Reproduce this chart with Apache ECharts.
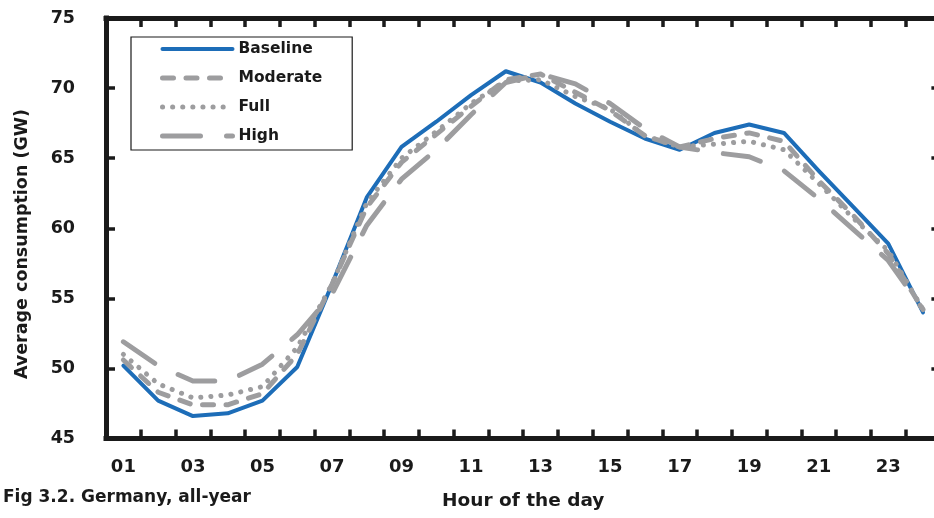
<!DOCTYPE html>
<html>
<head>
<meta charset="utf-8">
<style>
  html, body { margin: 0; padding: 0; background: #ffffff; }
  #chart { width: 934px; height: 518px; }
</style>
<script src="https://cdn.jsdelivr.net/npm/echarts@6/dist/echarts.min.js"></script>
</head>
<body>
<div id="chart"></div>
<script>
// Hours of the day (category axis)
const hours = ['01','02','03','04','05','06','07','08','09','10','11','12',
               '13','14','15','16','17','18','19','20','21','22','23','24'];

// Average hourly consumption in GW for each scenario
const baseline = [50.2, 47.7, 46.6, 46.8, 47.7, 50.1, 56.0, 62.2, 65.8, 67.6, 69.5, 71.2,
                  70.4, 68.9, 67.6, 66.4, 65.6, 66.8, 67.4, 66.8, 64.1, 61.5, 58.9, 54.0];
const moderate = [50.6, 48.3, 47.4, 47.4, 48.2, 51.0, 56.0, 61.5, 64.7, 66.7, 68.7, 70.6,
                  71.0, 69.7, 68.4, 66.6, 65.8, 66.4, 66.8, 66.2, 63.4, 60.9, 58.2, 54.2];
const full     = [51.0, 48.9, 47.9, 48.1, 48.7, 51.5, 56.0, 61.8, 65.0, 66.9, 68.9, 70.5,
                  70.6, 69.4, 68.5, 66.6, 65.8, 66.0, 66.2, 65.6, 63.2, 60.7, 58.4, 54.2];
const high     = [51.9, 50.2, 49.1, 49.1, 50.3, 52.4, 55.3, 60.2, 63.5, 65.6, 68.1, 70.4,
                  71.0, 70.3, 68.9, 67.1, 65.8, 65.4, 65.1, 64.1, 62.1, 59.9, 57.7, 54.2];

const seriesNames = ['Baseline', 'Moderate', 'Full', 'High'];

const FONT = '"DejaVu Sans", sans-serif';
const INK = '#1a1a1a';
const BLUE = '#1d6db8';
const GREY = '#9d9d9f';

const chart = echarts.init(document.getElementById('chart'), null, { renderer: 'canvas' });

const frameAxisLine = { show: true, lineStyle: { color: INK, width: 5, cap: 'square' } };
const frameTick = { show: true, inside: true, length: 9, lineStyle: { color: INK, width: 3.5 } };

function lineSeries(name, data, color, width, dash) {
  return {
    name: name,
    type: 'line',
    data: data,
    symbol: 'none',
    showSymbol: false,
    animation: false,
    lineStyle: {
      color: color,
      width: width,
      type: dash,
      cap: 'round',
      join: 'round'
    },
    itemStyle: { color: color }
  };
}

chart.setOption({
  animation: false,
  backgroundColor: '#ffffff',
  textStyle: { fontFamily: FONT },
  title: {
    text: 'Fig 3.2. Germany, all-year',
    left: 3,
    top: 489,
    padding: 0,
    textStyle: { fontFamily: FONT, fontWeight: 'bold', fontSize: 17, color: INK }
  },
  grid: {
    left: 106,
    top: 18,
    right: -6.4,
    bottom: 79.5,
    containLabel: false,
    outerBoundsMode: 'none'
  },
  legend: {
    orient: 'vertical',
    left: 131,
    top: 37,
    width: 219,
    padding: [4, 30, 6, 29],
    itemWidth: 70,
    itemHeight: 14,
    itemGap: 13,
    borderColor: INK,
    borderWidth: 1.2,
    backgroundColor: '#ffffff',
    data: seriesNames,
    itemStyle: { opacity: 0 },
    lineStyle: { width: 'inherit', type: 'inherit', cap: 'round', join: 'round' },
    textStyle: { fontFamily: FONT, fontWeight: 'bold', fontSize: 15.5, color: INK, padding: [0, 0, 0, 1] }
  },
  xAxis: [
    {
      type: 'category',
      data: hours,
      position: 'bottom',
      boundaryGap: true,
      axisLine: frameAxisLine,
      axisTick: Object.assign({ interval: 0, alignWithLabel: false }, frameTick),
      axisLabel: {
        interval: 1,
        margin: 20,
        fontFamily: FONT,
        fontWeight: 'bold',
        fontSize: 18,
        color: INK
      },
      splitLine: { show: false },
      name: 'Hour of the day',
      nameLocation: 'middle',
      nameGap: 53,
      nameTextStyle: { fontFamily: FONT, fontWeight: 'bold', fontSize: 18.5, color: INK }
    },
    {
      type: 'category',
      data: hours,
      position: 'top',
      boundaryGap: true,
      axisLine: frameAxisLine,
      axisTick: Object.assign({ interval: 0 }, frameTick),
      axisLabel: { show: false },
      splitLine: { show: false }
    }
  ],
  yAxis: [
    {
      type: 'value',
      position: 'left',
      min: 45,
      max: 75,
      interval: 5,
      axisLine: frameAxisLine,
      axisTick: frameTick,
      axisLabel: {
        margin: 31,
        fontFamily: FONT,
        fontWeight: 'bold',
        fontSize: 17.5,
        color: INK
      },
      splitLine: { show: false }
    },
    {
      type: 'value',
      position: 'right',
      min: 45,
      max: 75,
      interval: 5,
      axisLine: frameAxisLine,
      axisTick: frameTick,
      axisLabel: { show: false },
      splitLine: { show: false }
    }
  ],
  graphic: [
    {
      type: 'text',
      x: 22,
      y: 244,
      rotation: Math.PI / 2,
      style: {
        text: 'Average consumption (GW)',
        fontFamily: FONT,
        fontWeight: 'bold',
        fontSize: 17.5,
        fill: INK,
        align: 'center',
        verticalAlign: 'middle'
      }
    }
  ],
  series: [
    lineSeries('Baseline', baseline, BLUE, 4, 'solid'),
    lineSeries('Moderate', moderate, GREY, 5, [11, 12.5]),
    lineSeries('Full', full, GREY, 5, [0.1, 10]),
    lineSeries('High', high, GREY, 5, [38, 26])
  ]
});
</script>
</body>
</html>
